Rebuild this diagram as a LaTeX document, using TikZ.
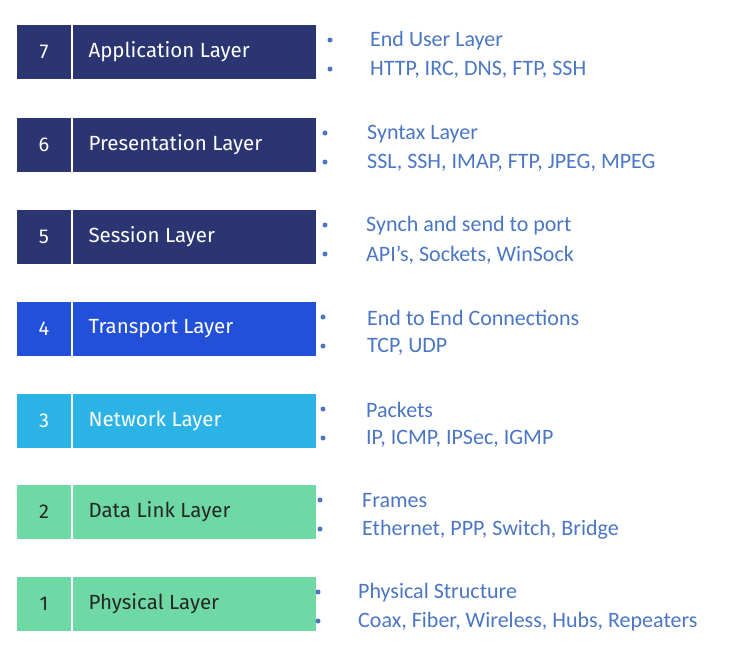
\documentclass[tikz,border=0pt]{standalone}
\usepackage{fontspec}
\setmainfont{Carlito}
\newfontfamily\boxfont{Fira Sans}
\definecolor{navy}{HTML}{2B3572}
\definecolor{tblue}{HTML}{2350D8}
\definecolor{cyanb}{HTML}{2BB3E6}
\definecolor{greenb}{HTML}{6FD9A6}
\definecolor{txtb}{HTML}{4A76C4}
\tikzset{
  numtxt/.style={font=\boxfont\fontsize{20}{20}\selectfont},
  nametxt/.style={font=\boxfont\fontsize{20.5}{20}\selectfont,anchor=west},
  info/.style={font=\fontsize{22}{22}\selectfont,text=txtb,anchor=west,inner sep=0pt},
  bul/.style={circle,fill=txtb,inner sep=0pt,minimum size=5pt}
}
\begin{document}
\begin{tikzpicture}[x=1pt,y=-1pt]
\useasboundingbox (0,0) rectangle (750,672);
\foreach \n/\yy/\c/\tc/\name/\la/\lb/\bx/\tx/\id in {
 7/25/navy/white/Application Layer/End User Layer/{HTTP, IRC, DNS, FTP, SSH}/330/370/a,
 6/118/navy/white/Presentation Layer/Syntax Layer/{SSL, SSH, IMAP, FTP, JPEG, MPEG}/325/367/b,
 5/210/navy/white/Session Layer/Synch and send to port/{API’s, Sockets, WinSock}/325/366/c,
 4/302/tblue/white/Transport Layer/End to End Connections/{TCP, UDP}/323/367/d,
 3/394/cyanb/white/Network Layer/Packets/{IP, ICMP, IPSec, IGMP}/323/366/e,
 2/485/greenb/black!85/Data Link Layer/Frames/{Ethernet, PPP, Switch, Bridge}/320/362/f,
 1/577/greenb/black!85/Physical Layer/Physical Structure/{Coax, Fiber, Wireless, Hubs, Repeaters}/318/358/g}{
  \fill[\c] (17,\yy) rectangle (316,\yy+54);
  \draw[white,line width=2pt] (72,\yy) -- (72,\yy+54);
  \node[numtxt,text=\tc] (num\id) at (44,\yy+27) {\n};
  \node[nametxt,text=\tc] (name\id) at (85,\yy+27) {\name};
  \node[bul] (ba\id) at (\bx,\yy+15) {};
  \node[bul] (bb\id) at (\bx,\yy+44) {};
  \node[info] (ia\id) at (\tx,\yy+16) {\la};
  \node[info] (ib\id) at (\tx,\yy+45) {\lb};
}
\end{tikzpicture}
\end{document}
